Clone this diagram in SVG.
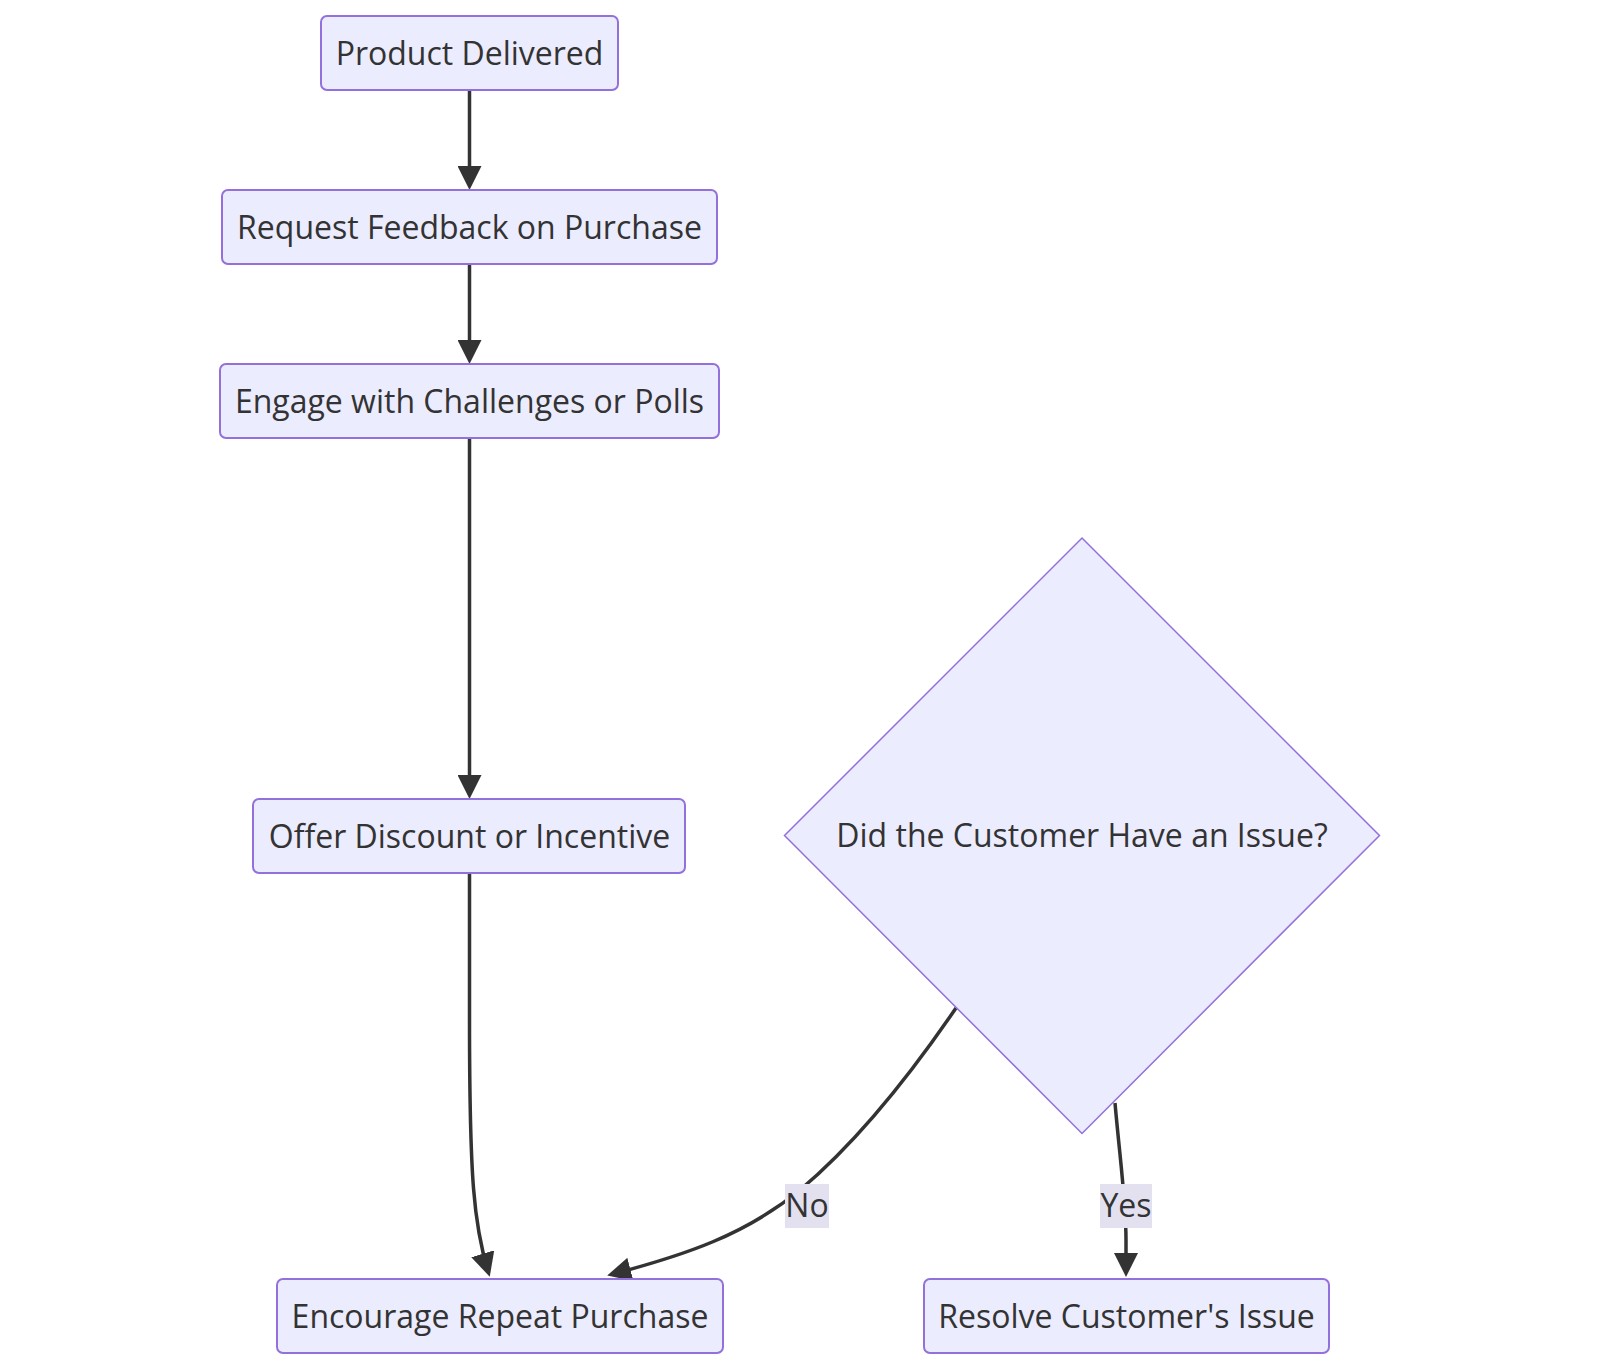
<svg xmlns="http://www.w3.org/2000/svg" width="1600" height="1368" viewBox="0 0 1600 1368">
<defs>
<style>
.node rect, .node polygon { fill: #ECECFF; stroke: #9370DB; stroke-width: 2; }
.node polygon { stroke-width: 1.5; }
.label { font-family: "Open Sans", "Noto Sans", sans-serif; font-size: 32px; fill: #333333; text-anchor: middle; }
.edge { fill: none; stroke: #333333; stroke-width: 3.5; }
.elbg { fill: #e3e1f0; }
</style>
<marker id="arrow" viewBox="0 0 10 10" refX="7.5" refY="5" markerUnits="userSpaceOnUse" markerWidth="24" markerHeight="24" orient="auto">
<path d="M0,0 L10,5 L0,10 z" fill="#333333"/>
</marker>
</defs>
<rect x="0" y="0" width="1600" height="1368" fill="#ffffff"/>
<g id="connectors">
<path class="edge" d="M469.5,90 L469.5,184" marker-end="url(#arrow)"/>
<path class="edge" d="M469.5,264 L469.5,358" marker-end="url(#arrow)"/>
<path class="edge" d="M469.5,438 L469.5,793" marker-end="url(#arrow)"/>
<path class="edge" d="M469.5,873 L469.5,1020 C469.5,1180 474,1225 488,1271" marker-end="url(#arrow)"/>
<path class="edge" d="M956,1008 C900,1090 850,1148 800,1190 C745,1235 685,1255 613,1274" marker-end="url(#arrow)"/>
<path class="edge" d="M1115,1103 C1120,1160 1126,1200 1126,1240 L1126,1271" marker-end="url(#arrow)"/>
<g id="label-no">
<rect class="elbg" x="785" y="1184" width="44" height="44"/>
<text class="label" x="807" y="1217">No</text>
</g>
<g id="label-yes">
<rect class="elbg" x="1100" y="1184" width="52" height="44"/>
<text class="label" x="1126" y="1217">Yes</text>
</g>
</g>
<g id="node-product-delivered" class="node">
<rect x="321" y="16" width="297" height="74" rx="6" ry="6"/>
<text class="label" x="469.5" y="65">Product Delivered</text>
</g>
<g id="node-request-feedback" class="node">
<rect x="222" y="190" width="495" height="74" rx="6" ry="6"/>
<text class="label" x="469.5" y="239">Request Feedback on Purchase</text>
</g>
<g id="node-engage" class="node">
<rect x="220" y="364" width="499" height="74" rx="6" ry="6"/>
<text class="label" x="469.5" y="413">Engage with Challenges or Polls</text>
</g>
<g id="node-offer-discount" class="node">
<rect x="253" y="799" width="432" height="74" rx="6" ry="6"/>
<text class="label" x="469.5" y="848">Offer Discount or Incentive</text>
</g>
<g id="node-issue-decision" class="node">
<polygon points="1082,538 1379.5,835.5 1082,1133.5 784.5,835.5"/>
<text class="label" x="1082" y="847">Did the Customer Have an Issue?</text>
</g>
<g id="node-encourage-repeat" class="node">
<rect x="277" y="1279" width="446" height="74" rx="6" ry="6"/>
<text class="label" x="500" y="1328">Encourage Repeat Purchase</text>
</g>
<g id="node-resolve-issue" class="node">
<rect x="924" y="1279" width="405" height="74" rx="6" ry="6"/>
<text class="label" x="1126.5" y="1328">Resolve Customer's Issue</text>
</g>
</svg>
